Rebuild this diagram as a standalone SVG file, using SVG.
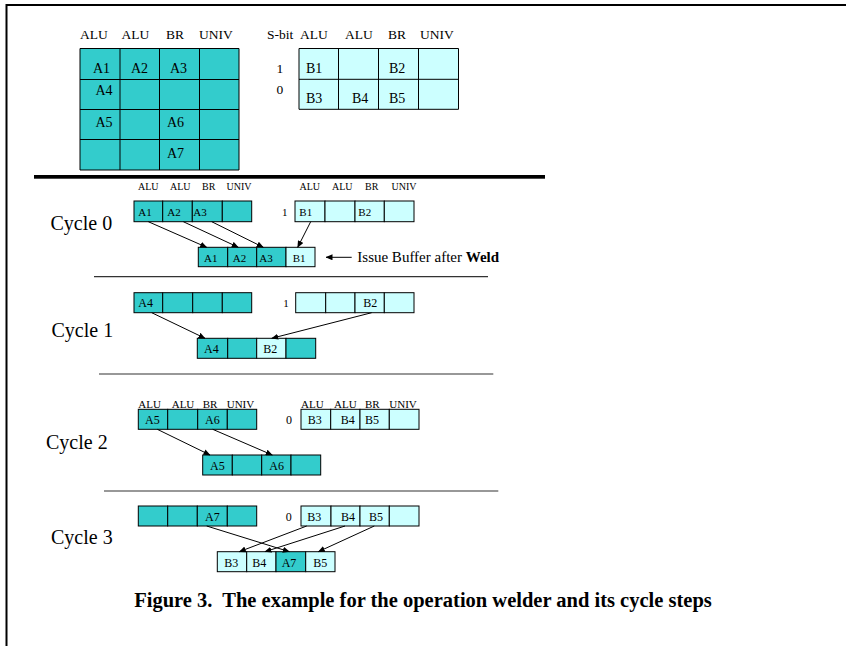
<svg xmlns="http://www.w3.org/2000/svg" width="846" height="646" viewBox="0 0 846 646">
  <style>
    text { font-family: "Liberation Serif", "Times New Roman", serif; fill: #000; }
    .hd { font-size: 13.5px; }
    .lb { font-size: 14px; }
    .hs { font-size: 10px; }
    .hm { font-size: 11px; }
    .c0 { font-size: 11px; }
    .cl { font-size: 12px; }
    .cyc { font-size: 20px; }
    .note { font-size: 15px; }
    .cap { font-size: 20.5px; font-weight: bold; white-space: pre; }
    .a { fill: #33CCCC; stroke: #000; stroke-width: 1; }
    .b { fill: #CCFFFF; stroke: #000; stroke-width: 1; }
    .grid { fill: none; stroke: #000; stroke-width: 1; }
    .sep { stroke: #333; stroke-width: 1.2; }
    .conn line { stroke: #000; stroke-width: 1; marker-end: url(#arr); }
  </style>
  <defs>
    <marker id="arr" markerWidth="7" markerHeight="6" refX="6.5" refY="3" orient="auto" markerUnits="userSpaceOnUse">
      <path d="M0,0 L7,3 L0,6 Z" fill="#000"/>
    </marker>
  </defs>

  <rect width="846" height="646" fill="#fff"/>
  <!-- frame -->
  <path d="M6.5,646 V5 H846" fill="none" stroke="#000" stroke-width="2"/>

  <!-- table of A operations -->
  <g id="tableA">
    <text class="hd" x="80" y="39">ALU</text>
    <text class="hd" x="121.5" y="39">ALU</text>
    <text class="hd" x="166" y="39">BR</text>
    <text class="hd" x="199" y="39">UNIV</text>
    <rect x="80" y="48.5" width="159" height="121.5" fill="#33CCCC"/>
    <path class="grid" d="M80,48.5 H239 V170 H80 Z M120,48.5 V170 M159.5,48.5 V170 M199.5,48.5 V170 M80,79.5 H239 M80,109.5 H239 M80,139.5 H239"/>
    <text class="lb" x="93" y="73">A1</text>
    <text class="lb" x="131" y="73">A2</text>
    <text class="lb" x="170" y="73">A3</text>
    <text class="lb" x="95.5" y="95">A4</text>
    <text class="lb" x="95.5" y="127">A5</text>
    <text class="lb" x="167" y="127">A6</text>
    <text class="lb" x="167" y="158">A7</text>
  </g>

  <!-- table of B operations with S-bit -->
  <g id="tableB">
    <text class="hd" x="267" y="39">S-bit</text>
    <text class="hd" x="300" y="39">ALU</text>
    <text class="hd" x="345" y="39">ALU</text>
    <text class="hd" x="388" y="39">BR</text>
    <text class="hd" x="420" y="39">UNIV</text>
    <text class="hd" x="276.5" y="73">1</text>
    <text class="hd" x="276.5" y="94">0</text>
    <rect x="299" y="48.5" width="159.5" height="60.8" fill="#CCFFFF"/>
    <path class="grid" d="M299,48.5 H458.5 V109.3 H299 Z M338.5,48.5 V109.3 M378.5,48.5 V109.3 M418.5,48.5 V109.3 M299,79.3 H458.5"/>
    <text class="lb" x="306" y="73">B1</text>
    <text class="lb" x="389" y="73">B2</text>
    <text class="lb" x="306" y="103">B3</text>
    <text class="lb" x="352" y="103">B4</text>
    <text class="lb" x="389" y="103">B5</text>
  </g>

  <rect x="34" y="175" width="511" height="3.7" fill="#000"/>

  <!-- cycle 0 -->
  <g id="cycle0">
    <text class="cyc" x="50.5" y="230">Cycle 0</text>
    <text class="hs" x="138" y="190">ALU</text>
    <text class="hs" x="170" y="190">ALU</text>
    <text class="hs" x="202" y="190">BR</text>
    <text class="hs" x="226.5" y="190">UNIV</text>
    <rect class="a" x="134" y="201" width="28.7" height="20.7"/>
    <rect class="a" x="162.7" y="201" width="29.6" height="20.7"/>
    <rect class="a" x="192.3" y="201" width="30" height="20.7"/>
    <rect class="a" x="222.3" y="201" width="29.4" height="20.7"/>
    <text class="c0" x="138.3" y="215.7">A1</text>
    <text class="c0" x="167.3" y="215.7">A2</text>
    <text class="c0" x="193.3" y="215.7">A3</text>
    <text class="hs" x="299.5" y="190">ALU</text>
    <text class="hs" x="332" y="190">ALU</text>
    <text class="hs" x="365" y="190">BR</text>
    <text class="hs" x="391.5" y="190">UNIV</text>
    <text class="c0" x="282" y="215.7">1</text>
    <rect class="b" x="295" y="201" width="30" height="20.7"/>
    <rect class="b" x="325" y="201" width="30" height="20.7"/>
    <rect class="b" x="355" y="201" width="29.3" height="20.7"/>
    <rect class="b" x="384.3" y="201" width="29.7" height="20.7"/>
    <text class="c0" x="299.3" y="215.7">B1</text>
    <text class="c0" x="358.3" y="215.7">B2</text>
    <rect class="a" x="198.3" y="247.3" width="29.4" height="19.4"/>
    <rect class="a" x="227.7" y="247.3" width="29" height="19.4"/>
    <rect class="a" x="256.7" y="247.3" width="29.3" height="19.4"/>
    <rect class="b" x="286" y="247.3" width="29" height="19.4"/>
    <text class="c0" x="204" y="261.7">A1</text>
    <text class="c0" x="232.7" y="261.7">A2</text>
    <text class="c0" x="259.3" y="261.7">A3</text>
    <text class="c0" x="292.7" y="261.7">B1</text>
    <text class="note" x="357.3" y="261.5">Issue Buffer after <tspan font-weight="bold">Weld</tspan></text>
  </g>

  <line class="sep" x1="94" y1="276.7" x2="488" y2="276.7"/>

  <!-- cycle 1 -->
  <g id="cycle1">
    <text class="cyc" x="51.5" y="336.5">Cycle 1</text>
    <rect class="a" x="134" y="292.7" width="28.7" height="20"/>
    <rect class="a" x="162.7" y="292.7" width="30" height="20"/>
    <rect class="a" x="192.7" y="292.7" width="29.6" height="20"/>
    <rect class="a" x="222.3" y="292.7" width="29.4" height="20"/>
    <text class="cl" x="138.3" y="307">A4</text>
    <text class="c0" x="283.3" y="306.5">1</text>
    <rect class="b" x="295.7" y="292.7" width="30" height="20"/>
    <rect class="b" x="325.7" y="292.7" width="29.3" height="20"/>
    <rect class="b" x="355" y="292.7" width="29.3" height="20"/>
    <rect class="b" x="384.3" y="292.7" width="29.7" height="20"/>
    <text class="cl" x="363.3" y="307">B2</text>
    <rect class="a" x="197.3" y="338.3" width="30.4" height="20"/>
    <rect class="a" x="227.7" y="338.3" width="29" height="20"/>
    <rect class="b" x="256.7" y="338.3" width="29.3" height="20"/>
    <rect class="a" x="286" y="338.3" width="29.7" height="20"/>
    <text class="cl" x="204" y="353">A4</text>
    <text class="cl" x="263.3" y="353">B2</text>
  </g>

  <line class="sep" x1="99" y1="374" x2="493.3" y2="374"/>

  <!-- cycle 2 -->
  <g id="cycle2">
    <text class="cyc" x="46" y="448.5">Cycle 2</text>
    <text class="hm" x="138.3" y="407.7">ALU</text>
    <text class="hm" x="171.7" y="407.7">ALU</text>
    <text class="hm" x="202.7" y="407.7">BR</text>
    <text class="hm" x="226.7" y="407.7">UNIV</text>
    <rect class="a" x="138.3" y="409.3" width="29.4" height="20"/>
    <rect class="a" x="167.7" y="409.3" width="30" height="20"/>
    <rect class="a" x="197.7" y="409.3" width="29.6" height="20"/>
    <rect class="a" x="227.3" y="409.3" width="29.4" height="20"/>
    <text class="cl" x="145" y="424">A5</text>
    <text class="cl" x="205" y="424">A6</text>
    <text class="hm" x="301" y="407.7">ALU</text>
    <text class="hm" x="334" y="407.7">ALU</text>
    <text class="hm" x="365" y="407.7">BR</text>
    <text class="hm" x="389.3" y="407.7">UNIV</text>
    <text class="cl" x="286" y="424">0</text>
    <rect class="b" x="301" y="409.3" width="29.7" height="20"/>
    <rect class="b" x="330.7" y="409.3" width="29.3" height="20"/>
    <rect class="b" x="360" y="409.3" width="29.3" height="20"/>
    <rect class="b" x="389.3" y="409.3" width="29.7" height="20"/>
    <text class="cl" x="307.7" y="424">B3</text>
    <text class="cl" x="340.7" y="424">B4</text>
    <text class="cl" x="365" y="424">B5</text>
    <rect class="a" x="202.7" y="455" width="29.6" height="20"/>
    <rect class="a" x="232.3" y="455" width="29.4" height="20"/>
    <rect class="a" x="261.7" y="455" width="29.3" height="20"/>
    <rect class="a" x="291" y="455" width="29.7" height="20"/>
    <text class="cl" x="210" y="469.5">A5</text>
    <text class="cl" x="269.3" y="469.5">A6</text>
  </g>

  <line class="sep" x1="104" y1="491" x2="498.3" y2="491"/>

  <!-- cycle 3 -->
  <g id="cycle3">
    <text class="cyc" x="51" y="543.5">Cycle 3</text>
    <rect class="a" x="138.3" y="506" width="29.4" height="20"/>
    <rect class="a" x="167.7" y="506" width="29.6" height="20"/>
    <rect class="a" x="197.3" y="506" width="30" height="20"/>
    <rect class="a" x="227.3" y="506" width="29.4" height="20"/>
    <text class="cl" x="205" y="520.5">A7</text>
    <text class="cl" x="285.7" y="520.5">0</text>
    <rect class="b" x="301" y="506" width="30" height="20"/>
    <rect class="b" x="331" y="506" width="29" height="20"/>
    <rect class="b" x="360" y="506" width="29.3" height="20"/>
    <rect class="b" x="389.3" y="506" width="29.7" height="20"/>
    <text class="cl" x="307.3" y="520.5">B3</text>
    <text class="cl" x="341" y="520.5">B4</text>
    <text class="cl" x="369" y="520.5">B5</text>
    <rect class="b" x="217.3" y="551.7" width="29.4" height="20"/>
    <rect class="b" x="246.7" y="551.7" width="29.3" height="20"/>
    <rect class="a" x="276" y="551.7" width="29.7" height="20"/>
    <rect class="b" x="305.7" y="551.7" width="29.3" height="20"/>
    <text class="cl" x="224.3" y="566.5">B3</text>
    <text class="cl" x="252.3" y="566.5">B4</text>
    <text class="cl" x="281.7" y="566.5">A7</text>
    <text class="cl" x="313.3" y="566.5">B5</text>
  </g>

  <!-- connectors -->
  <g id="connectors" class="conn">
    <line x1="148.3" y1="221.7" x2="206.7" y2="247.3"/>
    <line x1="183.3" y1="221.7" x2="238.3" y2="247.3"/>
    <line x1="211.7" y1="221.7" x2="263.3" y2="247.3"/>
    <line x1="310.7" y1="221.7" x2="297.7" y2="247.3"/>
    <line x1="351.7" y1="257.3" x2="326" y2="257.3"/>
    <line x1="151.7" y1="312.7" x2="205" y2="338.3"/>
    <line x1="371.7" y1="312.7" x2="271.7" y2="338.3"/>
    <line x1="157.3" y1="429.3" x2="210" y2="455"/>
    <line x1="212.7" y1="429.3" x2="272.3" y2="455"/>
    <line x1="206.7" y1="526" x2="289.3" y2="551.7"/>
    <line x1="306.7" y1="526" x2="239.3" y2="551.7"/>
    <line x1="345" y1="526" x2="265" y2="551.7"/>
    <line x1="374.3" y1="526" x2="318.3" y2="551.7"/>
  </g>

  <text class="cap" x="423" y="607" text-anchor="middle">Figure 3.  The example for the operation welder and its cycle steps</text>
</svg>
